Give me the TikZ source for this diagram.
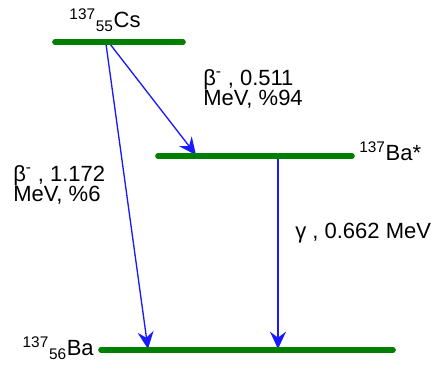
\documentclass[tikz,border=0pt]{standalone}
\usepackage{fontspec}
\setmainfont{Liberation Sans}
\usetikzlibrary{arrows.meta}
\definecolor{levelgreen}{HTML}{007F00}
\definecolor{decayblue}{HTML}{1A1AFF}
\begin{document}
\begin{tikzpicture}[x=0.75pt,y=-0.75pt,
  level/.style={draw=levelgreen,line width=4.2pt,line cap=round},
  decay/.style={draw=decayblue,line width=1pt,-{Stealth[length=13pt,width=12pt,inset=4.5pt]}},
  lbl/.style={font=\fontsize{16.5}{15.5}\selectfont,align=left,inner sep=0pt}]
\useasboundingbox (0,0) rectangle (436,371);

% Niveaux d'énergie
\coordinate (csL) at (55,42);
\coordinate (csR) at (183,42);
\coordinate (bsL) at (158,156);
\coordinate (bsR) at (352,156);
\coordinate (baL) at (101,350);
\coordinate (baR) at (393,350);

% Points de départ et d'arrivée des transitions
\coordinate (csA) at (106,44);
\coordinate (csB) at (110,44);
\coordinate (bsA) at (196,155);
\coordinate (bsB) at (278,157);
\coordinate (baA) at (148,349);
\coordinate (baB) at (278,349);

% Transitions
\draw[decay] (csA) -- (baA);
\draw[decay] (csB) -- (bsA);
\draw[decay] (bsB) -- (baB);

\draw[level] (csL) -- (csR);
\draw[level] (bsL) -- (bsR);
\draw[level] (baL) -- (baR);

% Noyaux
\node[lbl] (cs) at (105,20) {\textsuperscript{137}\textsubscript{55}Cs};
\node[lbl,anchor=west] (bastar) at (359,151) {\textsuperscript{137}Ba*};
\node[lbl,anchor=east] (ba) at (94,348) {\textsuperscript{137}\textsubscript{56}Ba};

% Étiquettes des transitions
\node[lbl,anchor=north west] (betaA) at (203,69) {β\textsuperscript{-} , 0.511\\MeV, \%94};
\node[lbl,anchor=north west] (betaB) at (13,165) {β\textsuperscript{-} , 1.172\\MeV, \%6};
\node[lbl,anchor=west] (gam) at (295,233) {γ , 0.662 MeV};
\end{tikzpicture}
\end{document}
